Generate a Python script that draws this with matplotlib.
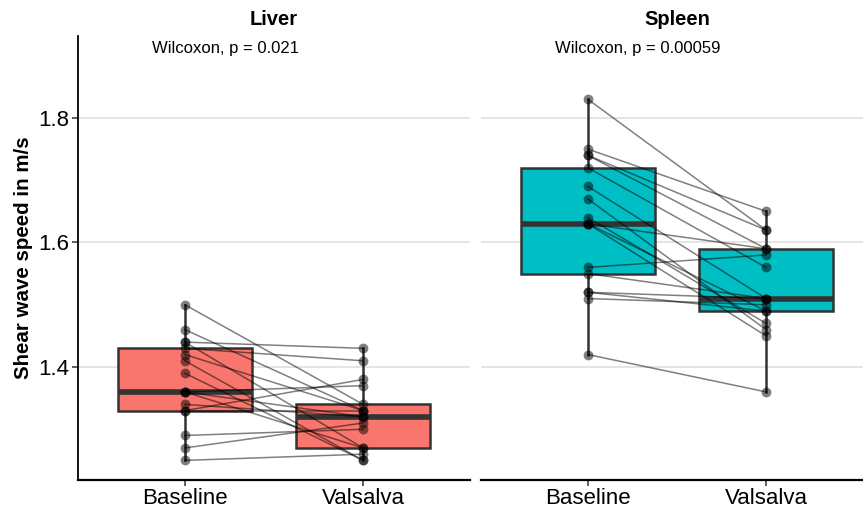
import numpy as np
import matplotlib.pyplot as plt

plt.rcParams["font.family"] = ["Liberation Sans", "DejaVu Sans"]

# paired measurements (same subject on same row)
liver_baseline = [1.50, 1.46, 1.44, 1.44, 1.43, 1.42, 1.41, 1.39, 1.36,
                  1.36, 1.36, 1.34, 1.33, 1.33, 1.29, 1.27, 1.25]
liver_valsalva = [1.34, 1.33, 1.43, 1.27, 1.41, 1.33, 1.25, 1.25, 1.37,
                  1.32, 1.27, 1.32, 1.38, 1.33, 1.30, 1.31, 1.26]
spleen_baseline = [1.83, 1.75, 1.74, 1.74, 1.72, 1.69, 1.67, 1.64, 1.63,
                   1.63, 1.63, 1.56, 1.55, 1.52, 1.52, 1.51, 1.42]
spleen_valsalva = [1.62, 1.65, 1.62, 1.59, 1.56, 1.51, 1.46, 1.47, 1.59,
                   1.49, 1.45, 1.58, 1.51, 1.51, 1.49, 1.50, 1.36]

conditions = ["Baseline", "Valsalva"]
panels = ["Liver", "Spleen"]
p_labels = ["Wilcoxon, p = 0.021", "Wilcoxon, p = 0.00059"]
fills = ["#F8766D", "#00BFC4"]
y_ticks = [1.4, 1.6, 1.8]

W, H = 863, 511
fig = plt.figure(figsize=(W / 100, H / 100), dpi=100)

# panel boxes in pixels (left, top, right, bottom); right panel runs off the edge
panel_px = [(78, 36, 470, 480), (481, 36, 873, 480)]
label_x = [0.19, 0.19]

data = [(liver_baseline, liver_valsalva), (spleen_baseline, spleen_valsalva)]
edge = "#333333"

for i, (name, (base, vals)) in enumerate(zip(panels, data)):
    l, t, r, b = panel_px[i]
    ax = fig.add_axes([l / W, 1 - b / H, (r - l) / W, (b - t) / H])
    ax.set_xlim(0.4, 2.6)
    ax.set_ylim(1.2185, 1.9317)

    for y in y_ticks:
        ax.axhline(y, color="#DCDCDC", linewidth=1.1, zorder=0)

    bp = ax.boxplot([base, vals], positions=[1, 2], widths=0.75,
                    patch_artist=True, showfliers=False, whis=1.5,
                    showcaps=False, zorder=1)
    for patch in bp["boxes"]:
        patch.set_facecolor(fills[i])
        patch.set_edgecolor(edge)
        patch.set_linewidth(1.8)
    for w in bp["whiskers"]:
        w.set_color(edge)
        w.set_linewidth(1.8)
    for m in bp["medians"]:
        m.set_color(edge)
        m.set_linewidth(4)

    for y0, y1 in zip(base, vals):
        ax.plot([1, 2], [y0, y1], color="black", alpha=0.5,
                linewidth=1.1, zorder=2)
    ax.scatter(np.full(len(base), 1), base, s=50, color="black",
               alpha=0.5, linewidths=0, zorder=3)
    ax.scatter(np.full(len(vals), 2), vals, s=50, color="black",
               alpha=0.5, linewidths=0, zorder=3)

    ax.set_xticks([1, 2])
    ax.set_xticklabels(conditions, fontsize=16, color="black")
    ax.set_yticks(y_ticks)
    ax.tick_params(axis="x", length=4, width=1.1, color="#333333", pad=2)
    ax.tick_params(axis="y", length=4, width=1.1, color="#333333", pad=2,
                   labelsize=16, labelcolor="black")

    for side in ["top", "right"]:
        ax.spines[side].set_visible(False)
    ax.spines["bottom"].set_linewidth(1.6)
    if i == 0:
        ax.spines["left"].set_linewidth(1.3)
        ax.set_ylabel("Shear wave speed in m/s", fontsize=14.8,
                      fontweight="bold", labelpad=4)
    else:
        ax.spines["left"].set_visible(False)
        ax.tick_params(axis="y", left=False, labelleft=False)

    ax.set_title(name, fontsize=14.5, fontweight="bold", pad=8)
    ax.text(label_x[i], 1.912, p_labels[i], fontsize=12,
            ha="left", va="center", transform=ax.get_yaxis_transform())

fig.savefig("out.png", dpi=100)
